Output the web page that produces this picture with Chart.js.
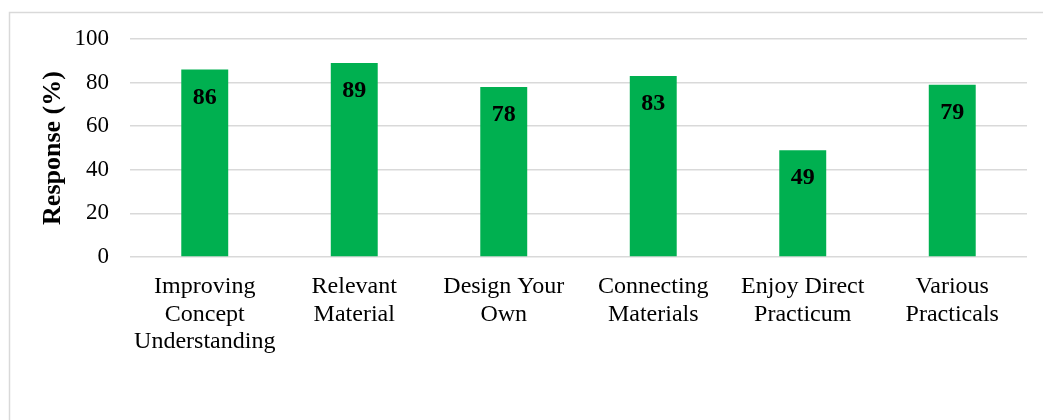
<!DOCTYPE html>
<html>
<head>
<meta charset="utf-8">
<script src="https://cdn.jsdelivr.net/npm/chart.js@4/dist/chart.umd.min.js"></script>
<style>
  html, body { margin: 0; padding: 0; background: #fff; }
  #wrap { width: 1043px; height: 420px; position: relative; }
</style>
</head>
<body>
<div id="wrap"><canvas id="chart" width="1043" height="420"></canvas></div>
<script>
const categories = [
  ["Improving", "Concept", "Understanding"],
  ["Relevant", "Material"],
  ["Design Your", "Own"],
  ["Connecting", "Materials"],
  ["Enjoy Direct", "Practicum"],
  ["Various", "Practicals"]
];
const responses = [86, 89, 78, 83, 49, 79];
const yTicks = [0, 20, 40, 60, 80, 100];
const yTitle = "Response (%)";

const SERIF = "'Liberation Serif', 'Times New Roman', serif";
const GRID = "#d9d9d9";
const BAR = "#00b050";

// Outer frame of the chart object
const framePlugin = {
  id: "frame",
  beforeDraw(chart) {
    const ctx = chart.ctx;
    ctx.save();
    ctx.fillStyle = "#fff";
    ctx.fillRect(0, 0, chart.width, chart.height);
    ctx.strokeStyle = GRID;
    ctx.lineWidth = 1.5;
    ctx.strokeRect(9.5, 12.5, chart.width + 20, chart.height + 20);
    ctx.restore();
  }
};

// Bold value written inside the top of each bar
const valueLabels = {
  id: "valueLabels",
  afterDatasetsDraw(chart) {
    const ctx = chart.ctx;
    const meta = chart.getDatasetMeta(0);
    const data = chart.data.datasets[0].data;
    ctx.save();
    ctx.font = "bold 24px " + SERIF;
    ctx.fillStyle = "#000";
    ctx.textAlign = "center";
    ctx.textBaseline = "middle";
    meta.data.forEach((bar, i) => {
      ctx.fillText(String(data[i]), bar.x, bar.y + 28);
    });
    ctx.restore();
  }
};

new Chart(document.getElementById("chart"), {
  type: "bar",
  data: {
    labels: categories,
    datasets: [{
      data: responses,
      backgroundColor: BAR,
      borderWidth: 0,
      categoryPercentage: 1,
      barPercentage: 0.314
    }]
  },
  options: {
    responsive: false,
    animation: false,
    devicePixelRatio: 1,
    layout: { padding: { left: 0, right: 16, top: 39, bottom: 0 } },
    plugins: {
      legend: { display: false },
      tooltip: { enabled: false }
    },
    scales: {
      x: {
        grid: { display: false, drawTicks: false },
        border: { display: false },
        ticks: {
          color: "#000",
          font: { family: SERIF, size: 24, lineHeight: 1.15 },
          padding: 16,
          maxRotation: 0,
          autoSkip: false
        },
        afterFit(scale) { scale.height = 420 - 257; }
      },
      y: {
        min: 0,
        max: 100,
        afterBuildTicks(scale) { scale.ticks = yTicks.map(v => ({ value: v })); },
        grid: { color: GRID, lineWidth: 1.5, drawTicks: false },
        border: { display: false },
        ticks: {
          color: "#000",
          font: { family: SERIF, size: 23 },
          padding: 21
        },
        title: {
          display: true,
          text: yTitle,
          color: "#000",
          font: { family: SERIF, size: 26, weight: "bold", lineHeight: 1.2 },
          padding: { top: 38, bottom: 0 }
        },
        afterFit(scale) { scale.width = 130; }
      }
    }
  },
  plugins: [framePlugin, valueLabels]
});
</script>
</body>
</html>
